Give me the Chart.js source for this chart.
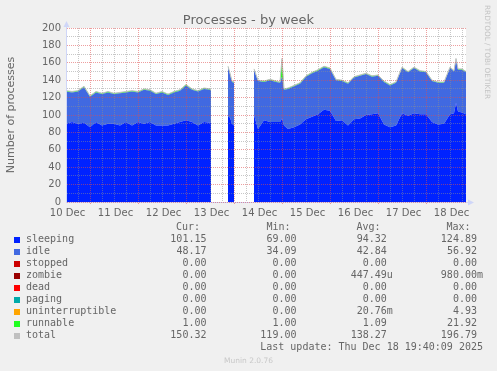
<!DOCTYPE html>
<html>
<head>
<meta charset="utf-8">
<title>Processes - by week</title>
<script src="https://cdn.jsdelivr.net/npm/chart.js@4.4.1/dist/chart.umd.min.js"></script>
<style>
    body { margin: 0; background: #f0f0f0; }
    #wrap { position: relative; width: 497px; height: 371px; overflow: hidden; font-family: "DejaVu Sans", sans-serif; color: #666; }
    #chart { position: absolute; left: 0; top: 0; }
    .abs { position: absolute; white-space: pre; }
    #title { left: 0; top: 11.7px; width: 497px; text-align: center; font-size: 13px; line-height: 16px; }
    #ylabel { left: -88.8px; top: 107.5px; width: 200px; height: 14px; text-align: center; font-size: 11px; line-height: 14px; transform: rotate(-90deg); }
    #rrd { left: 483px; top: 5px; font-size: 7.3px; line-height: 9px; color: #c4c4c4; writing-mode: vertical-rl; }
    #munin { left: 0; top: 356px; width: 497px; text-align: center; font-size: 7.5px; line-height: 9px; color: #c8c8c8; }
    .mono { font-family: "DejaVu Sans Mono", monospace; font-size: 10px; line-height: 12px; height: 12px; }
    .right { text-align: right; }
    .swatch { position: absolute; width: 6px; height: 6px; }
</style>
</head>
<body>
<div id="wrap">
    <canvas id="chart" width="497" height="225"></canvas>
    <div id="title" class="abs">Processes - by week</div>
    <div id="ylabel" class="abs">Number of processes</div>
    <div id="rrd" class="abs">RRDTOOL / TOBI OETIKER</div>
    <div id="legend"></div>
    <div id="munin" class="abs">Munin 2.0.76</div>
</div>
<script>
// Time of each sample, in hours since 10 Dec 00:00 (null rows = no data)
const hours = [
    0, 3, 6, 9, 12, 15, 18, 21, 24, 27, 30, 33, 36, 39, 42, 45, 48, 51, 54, 57, 60, 63, 66, 69, 72, 72.5,
    77,
    81, 82, 83, 84,
    89,
    94, 96, 99, 102, 105, 107, 108, 109, 111, 114, 117, 120, 123, 126, 129, 132, 135, 138, 141, 144, 147, 150,
    153, 156, 159, 162, 165, 168, 171, 174, 177, 180, 183, 186, 189, 192, 194, 195, 196, 198, 200
];

const sleeping = [
    90, 92, 90, 91, 86, 92, 88, 90, 90, 88, 92, 88, 92, 90, 92, 88, 88, 88, 90, 92, 94, 92, 88, 92, 91, 91,
    null,
    98, 97, 90, 88,
    null,
    100, 84, 94, 92, 92, 92, 96, 88, 84, 86, 89, 95, 98, 101, 106, 105, 93, 94, 88, 95, 96, 100,
    101, 102, 89, 86, 88, 102, 99, 102, 101, 101, 92, 89, 90, 101, 102, 114, 104, 103, 101
];

const idle = [
    37, 34, 37, 41, 35, 34, 36, 36, 34, 37, 34, 39, 34, 39, 36, 36, 38, 35, 36, 36, 40, 37, 39, 38, 38, 37,
    null,
    57, 50, 48, 49,
    null,
    52, 55, 44, 48, 46, 45, 48, 41, 46, 47, 47, 49, 50, 50, 49, 48, 47, 45, 48, 48, 49, 47,
    43, 43, 49, 48, 49, 52, 50, 52, 49, 48, 47, 48, 47, 53, 48, 50, 48, 49, 48
];

const runnable = [
    1, 1, 1, 1, 1, 1, 1, 1, 1, 1, 1, 1, 1, 1, 1, 1, 1, 1, 1, 1, 1, 1, 1, 1, 1, 1,
    null,
    1, 1, 1, 1,
    null,
    1, 1, 1, 1, 1, 1, 21, 1, 1, 1, 1, 1, 1, 1, 1, 1, 1, 1, 1, 1, 1, 1,
    1, 1, 1, 1, 1, 1, 1, 1, 1, 1, 1, 1, 1, 1, 1, 1, 1, 1, 1
];

const total = [
    128, 127, 128, 133, 122, 127, 125, 127, 125, 126, 127, 128, 127, 130, 129, 125, 127, 124, 127, 129, 135, 130, 128, 131, 130, 129,
    null,
    156, 148, 139, 138,
    null,
    153, 140, 139, 141, 139, 138, 165, 130, 131, 134, 137, 145, 149, 152, 156, 154, 141, 140, 137, 144, 146, 148,
    145, 146, 139, 135, 138, 155, 150, 155, 151, 150, 140, 138, 138, 155, 151, 165, 153, 153, 150
];

const dayLabels = ['10 Dec', '11 Dec', '12 Dec', '13 Dec', '14 Dec', '15 Dec', '16 Dec', '17 Dec', '18 Dec'];

// Legend table (Cur / Min / Avg / Max as printed by munin)
const legendNames = ['sleeping', 'idle', 'stopped', 'zombie', 'dead', 'paging', 'uninterruptible', 'runnable', 'total'];
const legendColors = ['#0022ff', '#4169e1', '#cc0000', '#990000', '#ff0000', '#00aaaa', '#ffa500', '#22ff22', '#c0c0c0'];
const curText = ['101.15', '48.17', '0.00', '0.00', '0.00', '0.00', '0.00', '1.00', '150.32'];
const minText = ['69.00', '34.09', '0.00', '0.00', '0.00', '0.00', '0.00', '1.00', '119.00'];
const avgText = ['94.32', '42.84', '0.00', '447.49u', '0.00', '0.00', '20.76m', '1.09', '138.27'];
const maxText = ['124.89', '56.92', '0.00', '980.00m', '0.00', '0.00', '4.93', '21.92', '196.79'];
const lastUpdate = 'Last update: Thu Dec 18 19:40:09 2025';

const GRID = 'rgba(143,143,143,0.5)';
const MGRID = 'rgba(222,79,79,0.55)';
const AXIS = '#cfd6f8';

/**
 * Build the text legend under the graph
 */
function buildLegend() {
    const legend = document.getElementById('legend');
    const rowTop = 232.8;
    const pad = s => /[a-z]$/i.test(s) ? s : s + ' ';
    const cell = (text, right, top) => {
        const div = document.createElement('div');
        div.className = 'abs mono right';
        div.style.left = (right - 120) + 'px';
        div.style.width = '120px';
        div.style.top = top + 'px';
        div.textContent = text;
        legend.appendChild(div);
    };

    // header
    cell('Cur:', 200, rowTop - 12);
    cell('Min:', 290.5, rowTop - 12);
    cell('Avg:', 380.5, rowTop - 12);
    cell('Max:', 470.5, rowTop - 12);

    legendNames.forEach((name, i) => {
        const top = rowTop + 12 * i;
        const sw = document.createElement('div');
        sw.className = 'swatch';
        sw.style.left = '14px';
        sw.style.top = (top + 3.7) + 'px';
        sw.style.background = legendColors[i];
        legend.appendChild(sw);

        const label = document.createElement('div');
        label.className = 'abs mono';
        label.style.left = '26px';
        label.style.top = top + 'px';
        label.textContent = name;
        legend.appendChild(label);

        cell(pad(curText[i]), 212.5, top);
        cell(pad(minText[i]), 302.5, top);
        cell(pad(avgText[i]), 392.8, top);
        cell(pad(maxText[i]), 483, top);
    });

    const upd = document.createElement('div');
    upd.className = 'abs mono right';
    upd.style.left = '183px';
    upd.style.width = '300px';
    upd.style.top = (rowTop + 12 * legendNames.length) + 'px';
    upd.textContent = lastUpdate;
    legend.appendChild(upd);
}

function points(values) {
    return hours.map((h, i) => ({ x: h, y: values[i] }));
}

// white canvas behind the plot + rrdtool style axis arrows
const rrdLook = {
    id: 'rrdLook',
    beforeDraw(chart) {
        const { ctx, chartArea: a } = chart;
        ctx.save();
        ctx.fillStyle = '#ffffff';
        ctx.fillRect(a.left, a.top, a.right - a.left, a.bottom - a.top);
        ctx.restore();
    },
    afterDraw(chart) {
        const { ctx, chartArea: a } = chart;
        ctx.save();
        ctx.fillStyle = AXIS;
        ctx.strokeStyle = AXIS;
        ctx.lineWidth = 1;
        ctx.beginPath();
        ctx.moveTo(a.left + 0.5, a.top);
        ctx.lineTo(a.left + 0.5, a.top - 2);
        ctx.moveTo(a.right, a.bottom + 0.5);
        ctx.lineTo(a.right + 3, a.bottom + 0.5);
        ctx.stroke();
        ctx.beginPath();
        ctx.moveTo(a.left - 2.5, a.top - 1);
        ctx.lineTo(a.left + 3.5, a.top - 1);
        ctx.lineTo(a.left + 0.5, a.top - 7);
        ctx.closePath();
        ctx.fill();
        ctx.beginPath();
        ctx.moveTo(a.right + 2, a.bottom - 2.5);
        ctx.lineTo(a.right + 2, a.bottom + 3.5);
        ctx.lineTo(a.right + 8, a.bottom + 0.5);
        ctx.closePath();
        ctx.fill();
        ctx.restore();
    }
};

function createChart() {
    Chart.defaults.font.family = '"DejaVu Sans", sans-serif';
    Chart.defaults.font.size = 10;
    Chart.defaults.color = '#666666';

    const ctx = document.getElementById('chart').getContext('2d');
    new Chart(ctx, {
        type: 'line',
        data: {
            datasets: [
                { label: 'sleeping', data: points(sleeping), backgroundColor: '#0022ff', borderWidth: 0, fill: 'origin', stack: 'procs' },
                { label: 'idle', data: points(idle), backgroundColor: '#4169e1', borderWidth: 0, fill: '-1', stack: 'procs' },
                { label: 'runnable', data: points(runnable), backgroundColor: '#22ff22', borderWidth: 0, fill: '-1', stack: 'procs' },
                // total is a plain LINE1 on top of the stack
                { label: 'total', data: points(total), borderColor: '#c0c0c0', borderWidth: 1, fill: false, stack: 'total', order: -1 },
            ],
        },
        options: {
            responsive: false,
            animation: false,
            devicePixelRatio: 1,
            spanGaps: false,
            elements: { point: { radius: 0 }, line: { tension: 0 } },
            layout: { padding: { top: 28, right: 31, left: 0, bottom: 0 } },
            plugins: {
                legend: { display: false },
                tooltip: { enabled: false },
                title: { display: false },
            },
            scales: {
                x: {
                    type: 'linear',
                    min: 0,
                    max: 200,
                    afterBuildTicks: scale => {
                        const ticks = [];
                        for (let h = 0; h < 200; h += 6) ticks.push({ value: h });
                        scale.ticks = ticks;
                    },
                    afterFit: scale => { scale.height = 23; },
                    ticks: {
                        autoSkip: false,
                        maxRotation: 0,
                        padding: 2,
                        labelOffset: 1.5,
                        callback: v => (v % 24 === 0 ? dayLabels[v / 24] : ''),
                    },
                    grid: {
                        z: 1, // rrdtool draws the grid over the areas
                        color: c => (c.tick && c.tick.value % 24 === 12 ? MGRID : GRID),
                        tickColor: c => (c.tick && c.tick.value % 24 === 12 ? MGRID : 'rgba(0,0,0,0)'),
                        tickLength: 3,
                        borderDash: [1, 1],
                        tickBorderDash: [1, 1],
                    },
                    border: { color: AXIS, dash: [1, 1], z: 1 },
                },
                y: {
                    type: 'linear',
                    stacked: true,
                    min: 0,
                    max: 200,
                    afterBuildTicks: scale => {
                        const ticks = [];
                        for (let v = 0; v <= 200; v += 10) ticks.push({ value: v });
                        scale.ticks = ticks;
                    },
                    afterFit: scale => { scale.width = 66; },
                    ticks: {
                        autoSkip: false,
                        padding: 5,
                        callback: v => (v % 20 === 0 ? String(v) : ''),
                    },
                    grid: {
                        z: 1,
                        color: c => (c.tick && c.tick.value % 20 === 0 ? MGRID : GRID),
                        drawTicks: false,
                        borderDash: [1, 1],
                    },
                    border: { color: AXIS, dash: [1, 1], z: 1 },
                },
            },
        },
        plugins: [rrdLook],
    });
}

buildLegend();
createChart();
</script>
</body>
</html>
